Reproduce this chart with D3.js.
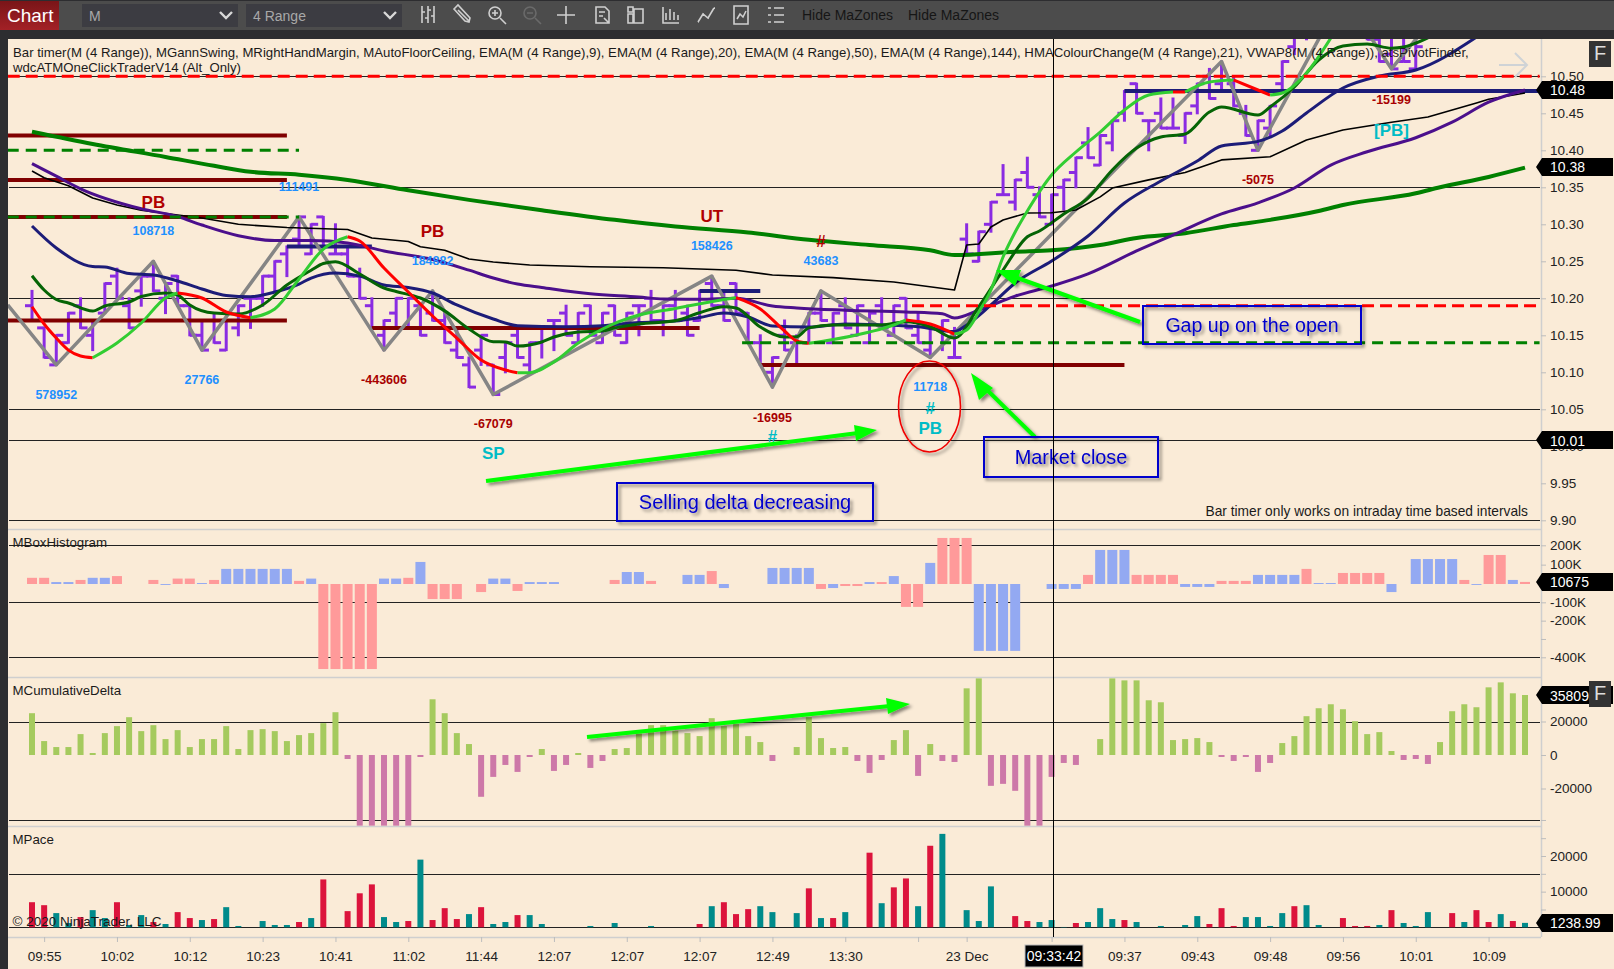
<!DOCTYPE html>
<html>
<head>
<meta charset="utf-8">
<title>Chart</title>
<script src="https://cdnjs.cloudflare.com/ajax/libs/d3/7.8.5/d3.min.js"></script>
<style>
  html, body { margin: 0; padding: 0; background: #faebd7; overflow: hidden; }
  svg text { font-family: "Liberation Sans", Arial, sans-serif; }
  .axis text { font-size: 13.5px; fill: #222; }
  .axis line { stroke: #bdbdbd; }
  .axis path { display: none; }
</style>
</head>
<body>
<svg id="canvas" width="1614" height="969"></svg>
<script>
// 4 Range bars, bar index 0 is the first bar on screen. Later bars are off the top of the price panel.
const barHigh = [
  10.21,10.16,10.15,10.18,10.20,10.17,10.22,10.24,10.20,10.23,
  10.25,10.22,10.23,10.19,10.17,10.18,10.17,10.19,10.20,10.23,
  10.25,10.27,10.31,10.30,10.31,10.30,10.27,10.24,10.20,10.17,
  10.20,10.20,10.19,10.21,10.18,10.16,10.12,10.15,10.11,10.14,
  10.16,10.14,10.16,10.17,10.19,10.18,10.19,10.18,10.19,10.18,
  10.19,10.21,10.19,10.21,10.19,10.21,10.23,10.21,10.22,10.18,
  10.15,10.12,10.17,10.15,10.18,10.21,10.18,10.20,10.19,10.18,
  10.20,10.19,10.20,10.18,10.16,10.17,10.16,10.30,10.29,10.33,
  10.38,10.36,10.39,10.35,10.34,10.36,10.39,10.43,10.42,10.44,
  10.48,10.49,10.44,10.47,10.47,10.45,10.49,10.51,10.52,10.50,
  10.46,10.44,10.46,10.52,10.57,10.59,10.60,10.61,10.61,10.61,
  10.59,10.56,10.55,10.56,10.55
];
const barLow = [
  10.17,10.12,10.11,10.14,10.16,10.13,10.18,10.20,10.16,10.19,
  10.21,10.18,10.19,10.15,10.13,10.14,10.13,10.15,10.16,10.19,
  10.21,10.23,10.27,10.26,10.27,10.26,10.23,10.20,10.16,10.13,
  10.16,10.16,10.15,10.17,10.14,10.12,10.08,10.11,10.07,10.10,
  10.12,10.10,10.12,10.13,10.15,10.14,10.15,10.14,10.15,10.14,
  10.15,10.17,10.15,10.17,10.15,10.17,10.19,10.17,10.18,10.14,
  10.11,10.08,10.13,10.11,10.14,10.17,10.14,10.16,10.15,10.14,
  10.16,10.15,10.16,10.14,10.12,10.13,10.12,10.26,10.25,10.29,
  10.34,10.32,10.35,10.31,10.30,10.32,10.35,10.39,10.38,10.40,
  10.44,10.45,10.40,10.43,10.43,10.41,10.45,10.47,10.48,10.46,
  10.42,10.40,10.42,10.48,10.53,10.55,10.56,10.57,10.57,10.57,
  10.55,10.52,10.51,10.52,10.51
];
const barOpen = [
  10.19,10.16,10.11,10.14,10.19,10.15,10.18,10.23,10.19,10.21,
  10.23,10.20,10.23,10.19,10.15,10.17,10.13,10.16,10.20,10.20,
  10.23,10.26,10.28,10.26,10.31,10.26,10.26,10.23,10.19,10.15,
  10.18,10.16,10.19,10.18,10.17,10.13,10.11,10.13,10.11,10.12,
  10.15,10.11,10.14,10.17,10.18,10.14,10.19,10.14,10.19,10.14,
  10.19,10.20,10.17,10.19,10.18,10.17,10.22,10.19,10.22,10.18,
  10.14,10.10,10.15,10.14,10.14,10.18,10.14,10.19,10.15,10.14,
  10.19,10.15,10.20,10.15,10.13,10.16,10.12,10.28,10.25,10.30,
  10.34,10.33,10.37,10.34,10.30,10.35,10.37,10.41,10.38,10.41,
  10.45,10.49,10.44,10.45,10.43,10.42,10.46,10.50,10.49,10.49,
  10.45,10.40,10.43,10.49,10.54,10.56,10.57,10.58,10.60,10.58,
  10.56,10.55,10.53,10.52,10.51
];
const barClose = [
  10.17,10.12,10.15,10.18,10.16,10.17,10.22,10.20,10.16,10.23,
  10.21,10.22,10.19,10.15,10.13,10.14,10.17,10.19,10.20,10.23,
  10.25,10.27,10.31,10.30,10.27,10.26,10.23,10.20,10.16,10.17,
  10.20,10.20,10.15,10.17,10.14,10.12,10.08,10.15,10.07,10.14,
  10.12,10.14,10.16,10.17,10.15,10.18,10.15,10.18,10.15,10.18,
  10.19,10.17,10.19,10.17,10.15,10.21,10.19,10.17,10.18,10.14,
  10.11,10.12,10.13,10.11,10.18,10.17,10.18,10.16,10.19,10.18,
  10.16,10.19,10.16,10.14,10.16,10.17,10.12,10.26,10.29,10.33,
  10.34,10.36,10.35,10.31,10.34,10.36,10.39,10.39,10.42,10.44,
  10.48,10.45,10.44,10.43,10.43,10.45,10.49,10.47,10.48,10.46,
  10.42,10.44,10.46,10.52,10.57,10.59,10.60,10.61,10.57,10.57,
  10.55,10.52,10.51,10.52,10.54
];

// indicator lines as [bar, price]
const ema144 = [[0,10.425],[5,10.4085],[11,10.391],[15,10.379],[18,10.371],[22,10.367],[26,10.36],[31,10.346],[36,10.333],[42,10.319],[48,10.306],[53,10.297],[59,10.289],[64,10.279],[69,10.272],[74,10.265],[76,10.2585],[81,10.263],[84,10.265],[88,10.272],[91,10.2815],[95,10.288],[99,10.299],[102,10.306],[106,10.318],[108,10.326],[114,10.342],[116,10.35],[120,10.364],[123,10.3765]];
const ema50 = [[0,10.382],[2,10.365],[4,10.348],[9,10.321],[12,10.3105],[14,10.299],[17,10.2846],[20,10.278],[23,10.278],[26,10.2747],[29,10.264],[33,10.2524],[36,10.238],[38,10.2274],[40,10.2193],[42,10.2146],[46,10.206],[50,10.2017],[52,10.199],[55,10.1986],[58,10.2],[61,10.1896],[63,10.187],[67,10.184],[72,10.1815],[75,10.179],[76,10.1734],[78,10.184],[81,10.203],[84,10.2166],[87,10.233],[91,10.264],[94,10.2855],[98,10.314],[101,10.329],[104,10.349],[107,10.38],[110,10.398],[114,10.417],[117,10.438],[120,10.465],[123,10.4815]];
const vwap = [[0,10.372],[1,10.363],[3,10.352],[5,10.3355],[7,10.326],[9,10.319],[12,10.3126],[14,10.3085],[17,10.3],[21,10.2957],[26,10.293],[28,10.2815],[31,10.2767],[32,10.2697],[34,10.265],[36,10.253],[38,10.249],[41,10.245],[46,10.2427],[52,10.2413],[58,10.238],[61,10.2315],[66,10.228],[71,10.222],[76,10.2112],[77,10.272],[78,10.2734],[79,10.2963],[80,10.3058],[82,10.3153],[84,10.3157],[86,10.3193],[88,10.337],[89,10.349],[92,10.36],[95,10.37],[98,10.387],[102,10.3913],[105,10.414],[108,10.4274],[112,10.438],[115,10.445],[119,10.464],[120,10.469],[123,10.4774]];
const ema20 = [[0,10.2977],[2,10.268],[5,10.243],[6,10.2423],[8,10.2335],[10,10.2315],[12,10.2234],[14,10.2126],[16,10.2038],[18,10.2022],[20,10.2085],[22,10.2193],[23,10.2274],[25,10.2342],[27,10.23],[29,10.218],[31,10.2146],[33,10.2072],[35,10.191],[38,10.172],[40,10.163],[44,10.1616],[47,10.163],[50,10.1673],[53,10.1693],[55,10.174],[57,10.18],[59,10.1747],[61,10.1626],[64,10.1612],[67,10.1653],[70,10.164],[73,10.1616],[76,10.155],[77,10.164],[79,10.191],[81,10.2207],[84,10.2504],[87,10.2842],[90,10.3288],[93,10.3585],[96,10.3855],[98,10.4058],[101,10.412],[103,10.426],[105,10.4504],[108,10.4842],[111,10.5004],[114,10.5085],[119,10.553]];
const ema9 = [[0,10.2305],[1,10.2112],[2,10.1984],[3,10.1936],[5,10.1828],[6,10.1896],[8,10.195],[9,10.2024],[11,10.2072],[12,10.2045],[13,10.191],[15,10.18],[17,10.1788],[19,10.191],[21,10.218],[23,10.238],[24,10.247],[25,10.2495],[27,10.2328],[29,10.2139],[30,10.2092],[32,10.2004],[34,10.183],[36,10.1585],[38,10.1413],[39,10.141],[40,10.1355],[42,10.141],[43,10.1477],[45,10.1545],[47,10.1558],[48,10.16],[50,10.1653],[53,10.1697],[55,10.1805],[57,10.1886],[58,10.187],[60,10.1612],[62,10.1477],[63,10.148],[64,10.16],[66,10.164],[70,10.164],[72,10.1684],[74,10.1616],[76,10.1463],[78,10.1886],[80,10.2382],[82,10.2832],[83,10.291],[85,10.314],[87,10.3355],[89,10.3734],[91,10.403],[93,10.418],[95,10.422],[97,10.4517],[98,10.4585],[101,10.4477],[102,10.4585],[104,10.4855],[106,10.522],[108,10.541],[110,10.5436],[112,10.538],[113,10.5396],[115,10.552]];
const hma = [[0,10.1886],[1,10.1653],[2,10.1463],[3,10.13],[4,10.122],[5,10.1197],[7,10.1396],[9,10.1666],[11,10.2004],[12,10.2072],[14,10.2004],[16,10.1815],[18,10.1738],[20,10.1855],[22,10.2261],[24,10.2666],[26,10.2832],[27,10.2774],[29,10.2409],[31,10.2085],[33,10.1761],[35,10.1463],[37,10.1166],[39,10.1031],[40,10.0995],[41,10.0995],[43,10.1139],[45,10.1396],[47,10.1585],[50,10.1774],[53,10.1862],[57,10.1984],[58,10.2008],[60,10.1855],[62,10.1558],[63,10.1423],[64,10.1392],[66,10.1443],[69,10.1545],[71,10.1639],[72,10.1707],[74,10.1653],[76,10.1517],[77,10.1572],[78,10.1815],[79,10.2112],[80,10.2558],[81,10.2896],[82,10.318],[84,10.3666],[86,10.3977],[88,10.4247],[90,10.4545],[92,10.4747],[94,10.4788],[95,10.4788],[97,10.4923],[99,10.495],[101,10.4815],[102,10.4747],[103,10.4774],[105,10.5045],[107,10.5517]];
const hmaFalling = [[0,5],[12,18],[26,40],[58,64],[72,76],[94,95],[99,102]];
const gannSwing = [[-2,10.191],[2,10.11],[10,10.25],[14,10.13],[22,10.31],[29,10.13],[33,10.21],[38,10.07],[56,10.23],[61,10.08],[65,10.21],[74,10.12],[98,10.52],[101,10.40],[108,10.61],[112,10.51],[116,10.59]];

// floor and ceiling levels as [from bar, to bar, price]
const floorLevels = [[-2,21,10.42],[-2,21,10.36],[-2,21,10.31],[-2,21,10.17],[28,55,10.16],[60,90,10.11]];
const ceilingLevels = [[21,28,10.27],[55,60,10.21],[90,124.2,10.48]];
const redLevels = [[-2,124.2,10.50],[72.5,124.2,10.19]];
const greenLevels = [[-2,22,10.40],[-2,22,10.31],[58.5,124.2,10.14]];

const swingText = ["PB","108718","111491","PB","184882","UT","158426","#","43683","578952","27766","-443606","-67079","SP","-16995","#","11718","#","PB","-5075","-15199","[PB]"];
const swingBar = [10,10,22,33,33,56,56,65,65,2,14,29,38,38,61,61,74,74,74,101,112,112];
const swingPrice = [10.3301,10.291,10.3504,10.2896,10.2504,10.3112,10.2707,10.2774,10.2504,10.0693,10.0896,10.0896,10.0301,9.9896,10.0382,10.0126,10.0801,10.0517,10.0247,10.3599,10.468,10.4274];
const swingKind = ["setup","buy","buy","setup","buy","setup","buy","setup","buy","buy","buy","sell","sell","signal","sell","signal","buy","signal","signal","sell","sell","signal"];

const boxValues = [
  32000,32000,10000,10000,21000,32000,32000,41000,0,0,
  21000,-5000,28000,28000,5000,21000,78000,78000,78000,78000,
  78000,78000,16000,28000,-464000,-464000,-464000,-464000,-464000,28000,
  28000,32000,114000,-82000,-82000,-82000,0,-44000,28000,28000,
  -38000,10000,10000,10000,0,0,0,0,21000,62000,
  62000,16000,0,0,47000,47000,67000,-22000,0,0,
  0,83000,83000,83000,83000,-27000,-22000,-11000,-11000,10000,
  10000,41000,-125000,-125000,109000,238000,238000,238000,-365000,-365000,
  -365000,-365000,0,0,-27000,-27000,-27000,47000,176000,176000,
  176000,47000,47000,47000,47000,-16000,-16000,-16000,16000,16000,
  16000,47000,47000,47000,47000,78000,5000,5000,57000,57000,
  57000,57000,-44000,0,129000,129000,129000,129000,21000,-5000,
  150000,150000,21000,10675
];
const boxSide = "PPBBPBBP..PBPPBPBBBBBBPBPPPPPBBPBPPP.PBBPBBB....PBBP..BBPB...BBBBPBPPBPBPPBPPPBBBB..BBBPBBBPPPPBBBPPPBBBBPBBPPPPB.BBBBPBPPBP";
const deltaValues = [
  24950,8316,4750,4750,12474,1188,13068,17226,22572,14256,
  17820,9504,14850,4750,9504,9504,17226,3564,14850,15444,
  14256,8316,11880,13068,19008,25542,-2376,-42174,-42174,-42174,
  -42174,-42174,-1188,33264,24950,13068,6534,-24948,-13068,-5940,
  -10098,-1188,3564,-9504,-5940,1188,-7722,-3564,3564,4158,
  12870,17820,17820,14454,13068,11286,21978,17226,18414,11286,
  7722,-3564,0,4752,22572,10098,4158,4752,-3564,-10692,
  -2970,8910,14850,-12474,6534,-3564,-4158,39798,45738,-18414,
  -17226,-21384,-42174,-42174,-13068,-4752,-5940,0,9504,45738,
  44550,44550,32670,31482,8910,9504,10098,7722,-1188,-3564,
  -1188,-10098,-4752,7128,11286,23166,27918,30294,27324,20196,
  12474,13662,2376,-2970,-2376,-5346,7722,26136,30294,28512,
  40392,43362,36828,35809
];
const paceValues = [
  7038,6204,3982,1204,2871,4815,2593,7038,648,3426,
  1482,926,4260,2593,2037,2315,5649,370,0,1759,
  648,648,1482,2593,13427,0,4537,9538,12038,2871,
  1482,1759,18983,2037,5371,2315,3704,5649,926,1482,
  3426,3426,926,0,0,0,370,0,1204,0,
  0,370,0,0,0,926,5926,7038,3704,5093,
  5926,4260,0,3982,10927,2593,2593,4260,0,20928,
  6760,11205,13705,5926,22872,26206,0,4815,1759,11482,
  0,3148,1759,1482,2037,93,1204,1482,5371,2315,
  2037,1482,0,370,0,648,3148,926,5371,370,
  2871,2871,370,3982,5926,6204,648,0,2593,370,
  370,648,4815,1204,370,4260,0,3982,1482,4815,
  1482,3704,1759,1238.99
];
const paceSide = "SSBBSBBSBBSBSSBSBB.BBBSBS.SSSBBSBSSSBSBBSB...S.S..S...BSBSSSB.BBSBS.BSBSSBS.SBB.BSSBBBSBBBS.S.BBBSSSBBBBSB.SSSSBSBB.BSBSSBS";

const priceTicks = [9.90,9.95,10.00,10.05,10.10,10.15,10.20,10.25,10.30,10.35,10.40,10.45,10.50];
const priceGrid = [10.50,10.35,10.20,10.05,9.90,10.0085];
const priceTags = [10.4815,10.3775,10.0085];
const boxTicks = [200000,100000,-100000,-200000,-300000,-400000];
const boxTickLabels = ["200K","100K","-100K","-200K","","-400K"];
const boxGrid = [200000,-100000,-400000];
const deltaTicks = [20000,0,-20000,-38800];
const deltaTickLabels = ["20000","0","-20000",""];
const deltaGrid = [20000,-38800];
const paceTicks = [5000,10000,15000,20000,25000];
const paceTickLabels = ["","10000","","20000",""];
const paceGrid = [15000,0];
const timeBars = [1,7,13,19,25,31,37,43,49,55,61,67,73,77,84,90,96,102,108,114,120];
const timeLabels = ["09:55","10:02","10:12","10:23","10:41","11:02","11:44","12:07","12:07","12:07","12:49","13:30","","23 Dec","","09:37","09:43","09:48","09:56","10:01","10:09"];

const svg = d3.select("#canvas");
const left = 8;
const right = 1541;

const x = d3.scaleLinear().domain([0, 123]).range([32, 1525]);
const priceY = d3.scaleLinear().domain([9.9, 10.5]).range([520.3, 76.3]);
const boxY = d3.scaleLinear().domain([-400000, 0, 200000]).range([657.3, 584, 545.3]);
const deltaY = d3.scaleLinear().domain([-40000, 40000]).range([822, 688]);
const paceY = d3.scaleLinear().domain([0, 20000]).range([927.3, 856]);

const panels = [
  { id: "clipPrice", top: 39, bottom: 529 },
  { id: "clipBox", top: 529, bottom: 677 },
  { id: "clipDelta", top: 677, bottom: 826 },
  { id: "clipPace", top: 826, bottom: 937 }
];

const defs = svg.append("defs");
panels.forEach((p) => {
  defs.append("clipPath").attr("id", p.id).append("rect")
    .attr("x", left).attr("y", p.top).attr("width", right - left).attr("height", p.bottom - p.top);
});
const shadow = defs.append("filter").attr("id", "shadow")
  .attr("x", "-20%").attr("y", "-50%").attr("width", "140%").attr("height", "200%");
shadow.append("feDropShadow").attr("dx", 2.5).attr("dy", 2.5).attr("stdDeviation", 1.5)
  .attr("flood-color", "#000").attr("flood-opacity", 0.45);
const chartGrad = defs.append("linearGradient").attr("id", "chartGrad")
  .attr("x1", 0).attr("y1", 0).attr("x2", 0).attr("y2", 1);
chartGrad.append("stop").attr("offset", "0%").attr("stop-color", "#7a1518");
chartGrad.append("stop").attr("offset", "100%").attr("stop-color", "#a32126");

// window chrome
svg.append("rect").attr("width", 1614).attr("height", 969).attr("fill", "#faebd7");
svg.append("rect").attr("width", left).attr("height", 969).attr("fill", "#2d2d30");
svg.append("rect").attr("width", 1614).attr("height", 39).attr("fill", "#2d2d30");
svg.append("rect").attr("y", 1).attr("width", 1614).attr("height", 29).attr("fill", "#4c4c4c");
svg.append("rect").attr("y", 1).attr("width", 59).attr("height", 29).attr("fill", "url(#chartGrad)");
svg.append("text").attr("x", 7).attr("y", 22).attr("font-size", 19).attr("fill", "#fff").text("Chart");

[[82, "M"], [246, "4 Range"]].forEach(([bx, label]) => {
  svg.append("rect").attr("x", bx).attr("y", 4).attr("width", 156).attr("height", 23).attr("fill", "#3c3c42");
  svg.append("text").attr("x", bx + 7).attr("y", 21).attr("font-size", 14).attr("fill", "#a8a8a8").text(label);
  svg.append("path").attr("d", `M${bx + 138} 12l6 6l6 -6`).attr("fill", "none")
    .attr("stroke", "#d8d8d8").attr("stroke-width", 2.4);
});

const icons = svg.append("g").attr("fill", "none").attr("stroke", "#cfcfcf").attr("stroke-width", 1.6);
const iconPaths = [
  [428, "M-6 -9v17M-6 -3h3M0 -9v17M0 3h-3M0 -5h3M6 -9v17M6 1h-3"],
  [462, "M-8 -6l4 -4l12 13l-1 4l-4 -1zM-4 -5l11 11"],
  [497, "M-2 -2m-6 0a6 6 0 1 0 12 0a6 6 0 1 0 -12 0M-5 -2h6M-2 -5v6M3 3l6 6"],
  [566, "M-9 0h18M0 -9v18"],
  [602, "M-6 -8h9l4 4v12h-13zM-3 -3h6M-3 1h4M2 3l5 5"],
  [636, "M-8 -8h5v5h-5zM-2 -6h9v14h-9zM-8 -1h5v9h-5z"],
  [671, "M-8 -8v16h16M-5 5v-7M-1 5v-11M3 5v-8M7 5v-5"],
  [706, "M-8 7l5 -8l5 4l6 -10M-8 7h1M-3 -1h1M2 3h1M8 -7h1"],
  [741, "M-7 -9h14v18h-14zM-4 4l3 -5l3 3l3 -6"],
  [776, "M-8 -7h3M-2 -7h10M-8 0h3M-2 0h10M-8 7h3M-2 7h10"]
];
iconPaths.forEach(([ix, d]) => {
  icons.append("path").attr("transform", `translate(${ix},15)`).attr("d", d);
});
svg.append("path").attr("transform", "translate(532,15)").attr("fill", "none").attr("stroke", "#6a6a6a")
  .attr("stroke-width", 1.6).attr("d", "M-2 -2m-6 0a6 6 0 1 0 12 0a6 6 0 1 0 -12 0M-5 -2h6M3 3l6 6");
[802, 908].forEach((tx) => {
  svg.append("text").attr("x", tx).attr("y", 20).attr("font-size", 14).attr("fill", "#161616").text("Hide MaZones");
});

// grid lines
const drawGrid = (values, y) => {
  svg.append("g").selectAll("line").data(values).enter().append("line")
    .attr("x1", 9).attr("x2", right - 1)
    .attr("y1", (d) => Math.round(y(d)) + 0.5).attr("y2", (d) => Math.round(y(d)) + 0.5)
    .attr("stroke", "#222").attr("stroke-width", 1);
};
drawGrid(priceGrid, priceY);
drawGrid(boxGrid, boxY);
drawGrid(deltaGrid, deltaY);
drawGrid(paceGrid, paceY);

// panel borders
[529, 677, 826, 937].forEach((py) => {
  svg.append("line").attr("x1", left).attr("x2", right).attr("y1", py + 0.5).attr("y2", py + 0.5)
    .attr("stroke", "#cfcfcf").attr("stroke-width", 1.5);
});
svg.append("line").attr("x1", right + 0.5).attr("x2", right + 0.5).attr("y1", 39).attr("y2", 937)
  .attr("stroke", "#cfcfcf").attr("stroke-width", 1.5);

// histogram panels
const drawHistogram = (id, values, y, width, fill) => {
  const zero = y(0);
  svg.append("g").attr("clip-path", `url(#${id})`)
    .selectAll("rect")
    .data(values.map((value, i) => ({ value, i })).filter((d) => d.value !== 0))
    .enter().append("rect")
    .attr("x", (d) => x(d.i) - width / 2)
    .attr("width", width)
    .attr("y", (d) => Math.min(y(d.value), zero))
    .attr("height", (d) => Math.abs(y(d.value) - zero))
    .attr("fill", fill);
};
drawHistogram("clipBox", boxValues, boxY, 10, (d) => (boxSide[d.i] === "P" ? "#ff9a9a" : "#93a9f2"));
drawHistogram("clipDelta", deltaValues, deltaY, 6, (d) => (d.value > 0 ? "#a5ca5e" : "#cd78a8"));
drawHistogram("clipPace", paceValues, paceY, 6, (d) => (paceSide[d.i] === "S" ? "#dc143c" : "#008b8b"));

// price panel
const pricePanel = svg.append("g").attr("clip-path", "url(#clipPrice)");
const bars = pricePanel.append("g").attr("stroke", "#8a2be2").attr("stroke-width", 3);
barHigh.forEach((high, i) => {
  bars.append("line").attr("x1", x(i)).attr("x2", x(i)).attr("y1", priceY(high) - 1).attr("y2", priceY(barLow[i]) + 1);
  bars.append("line").attr("x1", x(i) - 7).attr("x2", x(i)).attr("y1", priceY(barOpen[i])).attr("y2", priceY(barOpen[i]));
  bars.append("line").attr("x1", x(i)).attr("x2", x(i) + 7).attr("y1", priceY(barClose[i])).attr("y2", priceY(barClose[i]));
});

const drawLevels = (levels, color, width, dash) => {
  pricePanel.append("g").selectAll("line").data(levels).enter().append("line")
    .attr("x1", (d) => x(d[0])).attr("x2", (d) => x(d[1]))
    .attr("y1", (d) => priceY(d[2])).attr("y2", (d) => priceY(d[2]))
    .attr("stroke", color).attr("stroke-width", width).attr("stroke-dasharray", dash);
};
drawLevels(floorLevels, "#800000", 4, null);
drawLevels(ceilingLevels, "#1c1c78", 4, null);

const smooth = d3.line().x((d) => x(d[0])).y((d) => priceY(d[1])).curve(d3.curveMonotoneX);
const straight = d3.line().x((d) => x(d[0])).y((d) => priceY(d[1]));
const drawLine = (points, gen, color, width) => {
  pricePanel.append("path").attr("d", gen(points)).attr("fill", "none")
    .attr("stroke", color).attr("stroke-width", width).attr("stroke-linejoin", "round");
};
drawLine(gannSwing, straight, "#858585", 3.5);
drawLine(ema144, smooth, "#008000", 4);
drawLine(vwap, straight, "#000", 1.6);
drawLine(ema50, smooth, "#4b0f8c", 3);
drawLine(ema20, smooth, "#1c1c78", 3);
drawLine(ema9, smooth, "#056405", 3);

// HMA changes colour with its direction
const isFalling = (i) => hmaFalling.some((r) => hma[i][0] >= r[0] && hma[i + 1][0] <= r[1]);
let start = 0;
for (let i = 1; i < hma.length; i++) {
  const done = i === hma.length - 1;
  if (done || isFalling(i) !== isFalling(start)) {
    drawLine(hma.slice(start, i + 1), smooth, isFalling(start) ? "#ff0000" : "#32cd32", 3);
    start = i;
  }
}

drawLevels(redLevels, "#ff0000", 3, "12,6");
drawLevels(greenLevels, "#008000", 3, "11,7");

// swing labels
const labelStyle = {
  buy: { fill: "#1e90ff", size: 12.5 },
  sell: { fill: "#a80000", size: 12.5 },
  setup: { fill: "#b00000", size: 17 },
  signal: { fill: "#00bcc6", size: 17 }
};
svg.append("g").selectAll("text").data(swingText).enter().append("text")
  .attr("x", (d, i) => x(swingBar[i]))
  .attr("y", (d, i) => priceY(swingPrice[i]))
  .attr("text-anchor", "middle").attr("dominant-baseline", "central")
  .attr("font-weight", "bold")
  .attr("font-size", (d, i) => labelStyle[swingKind[i]].size)
  .attr("fill", (d, i) => labelStyle[swingKind[i]].fill)
  .text((d) => d);

// hand drawn annotations
const notes = svg.append("g").attr("filter", "url(#shadow)");
const arrow = (from, neck, tip, wingA, wingB) => {
  notes.append("line").attr("x1", from[0]).attr("y1", from[1]).attr("x2", neck[0]).attr("y2", neck[1])
    .attr("stroke", "#00ff00").attr("stroke-width", 4);
  notes.append("path").attr("d", `M${tip}L${wingA}L${wingB}Z`).attr("fill", "#00ff00");
};
arrow([486, 481], [858, 433], [877, 430], [854, 425], [856, 441]);
arrow([587, 737], [890, 706], [910, 704], [886, 698], [888, 714]);
arrow([1140, 322], [1012, 276], [996, 270], [1021, 270], [1015, 286]);
arrow([1035, 437], [982, 385], [971, 373], [993, 388], [979, 400]);

const noteBox = (bx, by, w, h, label, size) => {
  notes.append("rect").attr("x", bx).attr("y", by).attr("width", w).attr("height", h)
    .attr("fill", "none").attr("stroke", "#0000cd").attr("stroke-width", 2);
  notes.append("text").attr("x", bx + w / 2).attr("y", by + h / 2)
    .attr("text-anchor", "middle").attr("dominant-baseline", "central")
    .attr("font-size", size).attr("fill", "#0000cd").text(label);
};
noteBox(1143, 306, 218, 38, "Gap up on the open", 19.6);
noteBox(984, 437, 174, 40, "Market close", 19.9);
noteBox(617, 483, 256, 38, "Selling delta decreasing", 20);
notes.append("ellipse").attr("cx", 929.5).attr("cy", 406.5).attr("rx", 31).attr("ry", 45.5)
  .attr("fill", "none").attr("stroke", "#f00000").attr("stroke-width", 1.6);

svg.append("path").attr("d", "M1499 65h28M1515 53l12 12l-12 12").attr("fill", "none")
  .attr("stroke", "#cfd3d6").attr("stroke-width", 2);

// panel texts
const legend = [
  "Bar timer(M (4 Range)), MGannSwing, MRightHandMargin, MAutoFloorCeiling, EMA(M (4 Range),9), EMA(M (4 Range),20), EMA(M (4 Range),50), EMA(M (4 Range),144), HMAColourChange(M (4 Range),21), VWAP8(M (4 Range)), atsPivotFinder,",
  "wdcATMOneClickTraderV14 (Alt_Only)"
];
const plainText = (tx, ty, label, size, anchor) => {
  svg.append("text").attr("x", tx).attr("y", ty).attr("font-size", size).attr("fill", "#1a1a1a")
    .attr("text-anchor", anchor || "start").text(label);
};
plainText(13, 56.5, legend[0], 13.2);
plainText(13, 72, legend[1], 13.2);
plainText(12.5, 547, "MBoxHistogram", 13.3);
plainText(12.5, 695, "MCumulativeDelta", 13.3);
plainText(12.5, 844, "MPace", 13.3);
plainText(12.5, 926, "\u00a9 2020 NinjaTrader, LLC", 13.5);
plainText(1528, 516, "Bar timer only works on intraday time based intervals", 13.75, "end");

// axes
const rightAxis = (y, values, labels) => {
  const g = svg.append("g").attr("class", "axis").attr("transform", `translate(${right},0)`)
    .call(d3.axisRight(y).tickValues(values).tickSize(5).tickFormat((d, i) => labels[i]));
  g.selectAll("text").attr("x", 9);
};
rightAxis(priceY, priceTicks, priceTicks.map((d) => d.toFixed(2)));
rightAxis(boxY, boxTicks, boxTickLabels);
rightAxis(deltaY, deltaTicks, deltaTickLabels);
rightAxis(paceY, paceTicks, paceTickLabels);

svg.append("g").attr("class", "axis").attr("transform", "translate(0,937)")
  .call(d3.axisBottom(x).tickValues(timeBars).tickSize(5).tickFormat((d, i) => timeLabels[i]))
  .selectAll("text").attr("y", 14);

// value tags on the right axis
const tag = (y, label) => {
  const g = svg.append("g").attr("transform", `translate(0,${y})`);
  g.append("path").attr("d", "M1536 0L1542 -9H1613V9H1542Z").attr("fill", "#000");
  g.append("text").attr("x", 1550).attr("y", 5.5).attr("font-size", 14).attr("fill", "#fff").text(label);
};
priceTags.forEach((p) => tag(priceY(p), p.toFixed(2)));
tag(boxY(boxValues[123]), String(boxValues[123]));
tag(deltaY(deltaValues[123]), `${deltaValues[123]}.`);
tag(paceY(paceValues[123]), String(paceValues[123]));

[[41, 26], [681, 26]].forEach(([fy, h]) => {
  svg.append("rect").attr("x", 1589).attr("y", fy).attr("width", 22).attr("height", h).attr("fill", "#333");
  svg.append("text").attr("x", 1600).attr("y", fy + 19).attr("text-anchor", "middle")
    .attr("font-size", 20).attr("fill", "#ddd").text("F");
});

// crosshair and its time box
svg.append("line").attr("x1", 1053.5).attr("x2", 1053.5).attr("y1", 39).attr("y2", 937)
  .attr("stroke", "#000").attr("stroke-width", 1);
svg.append("rect").attr("x", 1025).attr("y", 945).attr("width", 58).attr("height", 22)
  .attr("fill", "#000").attr("stroke", "#bbb");
svg.append("text").attr("x", 1054).attr("y", 961).attr("text-anchor", "middle")
  .attr("font-size", 14).attr("fill", "#fff").text("09:33:42");
</script>
</body>
</html>
